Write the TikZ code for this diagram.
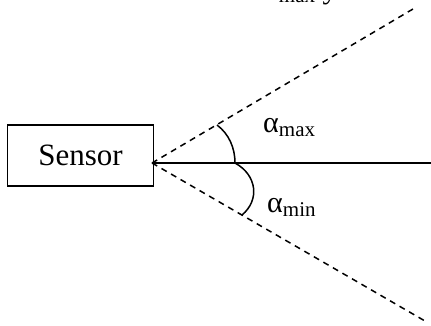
\documentclass[tikz,border=0pt]{standalone}
\usepackage{fontspec}
\setmainfont{Liberation Serif}
\begin{document}
\begin{tikzpicture}[x=1pt,y=-1pt,
  lbl/.style={inner sep=0pt,anchor=base west,font=\fontsize{30}{32}\selectfont},
  ray/.style={line width=1.5pt,dash pattern=on 6pt off 5pt},
  solidline/.style={line width=1.5pt},
  arcline/.style={line width=1.5pt}]
\useasboundingbox (0,0) rectangle (431,326);
\clip (0,0) rectangle (431,326);
\node[draw,line width=1.5pt,minimum width=146pt,minimum height=61pt,inner sep=0pt,
  font=\fontsize{31}{33}\selectfont] (sensor) at (80.5,155.5) {Sensor};
\coordinate (apex) at (152,163);
\coordinate (upend) at (413,9);
\coordinate (lowend) at (425,321);
\coordinate (hend) at (431,163);
\draw[solidline] (apex) -- (hend);
\draw[ray] (apex) -- (upend);
\draw[ray] (apex) -- (lowend);
\coordinate (ua) at (217,125);
\coordinate (mb) at (235,163);
\coordinate (lb) at (242,215);
\draw[arcline] (ua) .. controls (229,134) and (235,148) .. (mb);
\draw[arcline] (mb) .. controls (257,175) and (260,200) .. (lb);
\node[lbl] (amax) at (263,133) {α\raisebox{-4pt}{\fontsize{21}{22}\selectfont max}};
\node[lbl] (amin) at (267,212) {α\raisebox{-4pt}{\fontsize{21}{22}\selectfont min}};
\node[lbl] (atop) at (263,-1) {α\raisebox{-4pt}{\fontsize{21}{22}\selectfont max} y};
\end{tikzpicture}
\end{document}
